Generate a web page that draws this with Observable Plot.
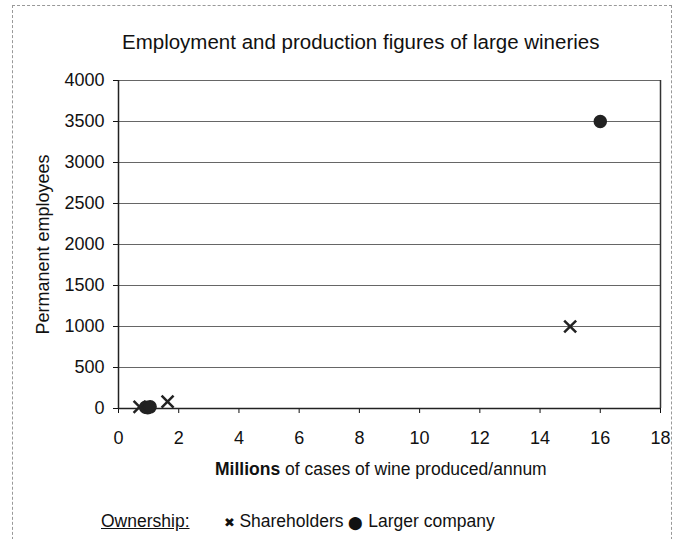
<!DOCTYPE html>
<html><head><meta charset="utf-8">
<script src="https://cdn.jsdelivr.net/npm/d3@7"></script>
<script src="https://cdn.jsdelivr.net/npm/@observablehq/plot@0.6"></script>
<style>
body{margin:0;width:682px;height:539px;overflow:hidden;background:#fff;font-family:"Liberation Sans",Arial,sans-serif;color:#111;position:relative}
#frame{position:absolute;left:12px;top:5px;width:660px;height:560px;border:1px dashed #999;box-sizing:border-box}
#title{position:absolute;left:122px;top:30px;font-size:20.5px;white-space:nowrap}
#chart{position:absolute;left:0;top:60px}
#xlabel{position:absolute;left:215px;top:459px;font-size:17.5px;white-space:nowrap}
#legend{position:absolute;left:101px;top:511px;font-size:17.5px;white-space:nowrap}
#legend u{margin-right:34px}
</style></head><body>
<div id="frame"></div>
<div id="title">Employment and production figures of large wineries</div>
<div id="chart"></div>
<div id="xlabel"><b>Millions</b> of cases of wine produced/annum</div>
<div id="legend"><u>Ownership:</u><span style="font-size:13px">✖</span> Shareholders <span style="font-size:13px">⬤</span> Larger company</div>
<script>
const shareholdersX = [0.7, 1.63, 15];
const shareholdersY = [20, 85, 1000];
const largerX = [0.9, 0.97, 1.05, 16];
const largerY = [15, 10, 20, 3500];
const xTicks = [0, 2, 4, 6, 8, 10, 12, 14, 16, 18];
const yTicks = [0, 500, 1000, 1500, 2000, 2500, 3000, 3500, 4000];

const share = shareholdersX.map((x, i) => ({x, y: shareholdersY[i]}));
const larger = largerX.map((x, i) => ({x, y: largerY[i]}));

const plot = Plot.plot({
  width: 682, height: 396,
  marginLeft: 118, marginRight: 22, marginTop: 20, marginBottom: 48,
  style: {fontFamily: "'Liberation Sans', Arial, sans-serif", fontSize: "18px", color: "#111", background: "transparent", overflow: "visible"},
  x: {domain: [0, 18]},
  y: {domain: [0, 4000]},
  marks: [
    Plot.gridY(yTicks, {stroke: "#666", strokeOpacity: 1, strokeWidth: 1}),
    Plot.axisY({ticks: yTicks, tickSize: 5, tickPadding: 9, tickFormat: d => String(d), fontSize: 18,
      label: "Permanent employees", labelAnchor: "center", labelOffset: 82, labelArrow: "none"}),
    Plot.axisX({ticks: xTicks, tickSize: 5, tickPadding: 18, label: null, fontSize: 18}),
    Plot.ruleX([18], {stroke: "#333", strokeWidth: 1.5}),
    Plot.ruleX([0], {stroke: "#222", strokeWidth: 1.5}),
    Plot.ruleY([0], {stroke: "#222", strokeWidth: 1.5}),
    Plot.dot(larger, {x: "x", y: "y", r: 6, fill: "#222", stroke: "#222", symbol: "circle"}),
    Plot.dot(share, {x: "x", y: "y", r: 5.5, stroke: "#222", strokeWidth: 2.5, symbol: "times"})
  ]
});
document.getElementById("chart").appendChild(plot);
</script>
</body></html>
